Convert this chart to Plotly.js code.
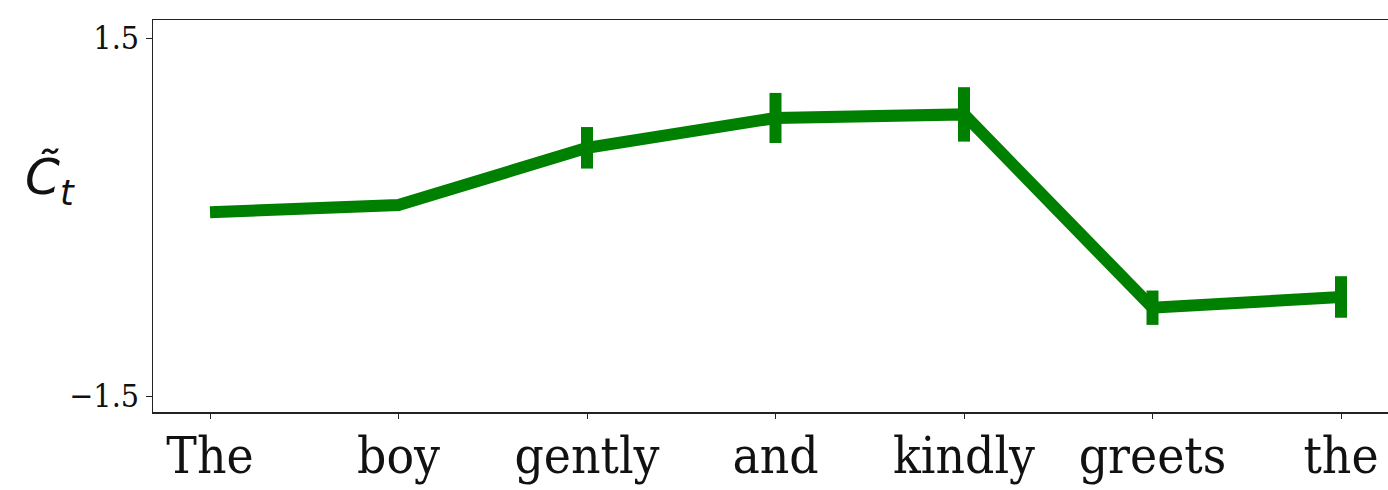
<!DOCTYPE html>
<html>
<head>
<meta charset="utf-8">
<script src="https://cdn.plot.ly/plotly-3.0.1.min.js"></script>
<style>
html,body{margin:0;padding:0;background:#fff;overflow:hidden;}
#chart{width:1400px;height:490px;}
</style>
</head>
<body>
<div id="chart"></div>
<script>
const words = ["The", "boy", "gently", "and", "kindly", "greets", "the"];
const values = [0.04, 0.10, 0.58, 0.83, 0.86, -0.76, -0.67];
const errors = [0, 0, 0.174, 0.21, 0.228, 0.144, 0.174];
const yTickVals = [-1.5, 1.5];
const yTickText = ["\u22121.5", "1.5"];
const yLabel = "C\u0303<sub>t</sub>";

const idx = words.map((w, i) => i);

const trace = {
  x: idx,
  y: values,
  type: "scatter",
  mode: "lines",
  line: {color: "#008000", width: 12},
  error_y: {type: "data", array: errors, visible: true, color: "#008000", thickness: 12, width: 0},
  hoverinfo: "skip"
};

const layout = {
  width: 1400,
  height: 490,
  margin: {l: 153, r: 2, t: 20, b: 78},
  paper_bgcolor: "#fff",
  plot_bgcolor: "#fff",
  showlegend: false,
  xaxis: {
    range: [-0.3024, 6.3024],
    tickmode: "array",
    tickvals: idx,
    ticktext: words,
    showgrid: false,
    zeroline: false,
    showline: true,
    mirror: true,
    linecolor: "#222",
    linewidth: 1.5,
    ticks: "outside",
    ticklen: 5,
    tickwidth: 1,
    tickcolor: "#222",
    ticklabelstandoff: -7,
    tickfont: {family: "DejaVu Serif Condensed, DejaVu Serif, serif", size: 51, color: "#111"}
  },
  yaxis: {
    range: [-1.634, 1.651],
    tickmode: "array",
    tickvals: yTickVals,
    ticktext: yTickText,
    showgrid: false,
    zeroline: false,
    showline: true,
    mirror: true,
    linecolor: "#222",
    linewidth: 1.5,
    ticks: "outside",
    ticklen: 6,
    tickwidth: 1,
    tickcolor: "#222",
    tickfont: {family: "DejaVu Serif Condensed, DejaVu Serif, serif", size: 32, color: "#111"}
  },
  annotations: [{
    text: yLabel,
    xref: "paper", yref: "paper",
    x: -0.083, y: 0.59,
    xanchor: "center", yanchor: "middle",
    showarrow: false,
    font: {family: "DejaVu Sans, sans-serif", size: 50, color: "#111", style: "italic"}
  }]
};

Plotly.newPlot("chart", [trace], layout, {displayModeBar: false, staticPlot: true});
</script>
</body>
</html>
